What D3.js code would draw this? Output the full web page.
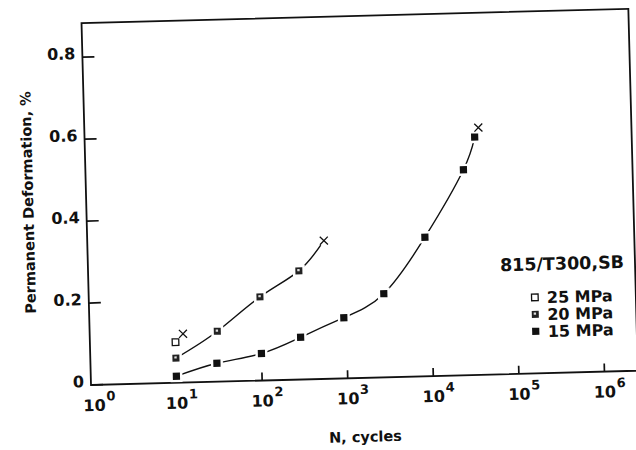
<!DOCTYPE html>
<html>
<head>
<meta charset="utf-8">
<script src="https://cdn.jsdelivr.net/npm/d3@7"></script>
<style>
  body { margin: 0; background: #fff; }
  text { font-family: "DejaVu Sans", "Liberation Sans", Arial, sans-serif; font-weight: bold; fill: #111; }
</style>
</head>
<body>
<svg width="636" height="450"></svg>
<script>
// cycles N and permanent deformation (%)
var n15 = [10, 30, 100, 290, 940, 2800, 8800, 26000, 36000];
var d15 = [0.016, 0.045, 0.066, 0.103, 0.148, 0.204, 0.339, 0.501, 0.580];
var n20 = [10, 31, 100, 290];
var d20 = [0.060, 0.123, 0.204, 0.265];
var n25 = [10];
var d25 = [0.099];
// failure ("x") points, order 25 / 20 / 15 MPa
var failN = [12.3, 580, 40000];
var failD = [0.119, 0.337, 0.603];

var seriesNames = ["25 MPa", "20 MPa", "15 MPa"];
var legendTitle = "815/T300,SB";
var yTicks = [0, 0.2, 0.4, 0.6, 0.8];
var yTickLabels = ["0", "0.2", "0.4", "0.6", "0.8"];
var xTickExp = [0, 1, 2, 3, 4, 5, 6];

var svg = d3.select("svg");

// the scanned figure sits a little crooked, so the whole drawing is turned a bit
var g = svg.append("g").attr("transform", "rotate(-1.5,91,385)");

var x = d3.scaleLog().domain([1, Math.pow(10, 6.39)]).range([91, 638]);
var y = d3.scaleLinear().domain([0, 0.883]).range([385, 23]);

// frame
g.append("rect")
  .attr("x", x.range()[0]).attr("y", y.range()[1])
  .attr("width", x.range()[1] - x.range()[0])
  .attr("height", y.range()[0] - y.range()[1])
  .attr("fill", "none").attr("stroke", "#111").attr("stroke-width", 1.8);

// y ticks (inside) + labels
g.selectAll(".ytick").data(yTicks).enter().append("line")
  .attr("x1", x(1)).attr("x2", x(1) + 12)
  .attr("y1", d => y(d)).attr("y2", d => y(d))
  .attr("stroke", "#111").attr("stroke-width", 1.7);
g.selectAll(".ylab").data(yTicks).enter().append("text")
  .attr("x", x(1) - 7).attr("y", d => y(d) + 2)
  .attr("text-anchor", "end")
  .style("font-size", "16px")
  .text((d, i) => yTickLabels[i]);

// x ticks (inside) + 10^n labels
g.selectAll(".xtick").data(xTickExp.slice(1)).enter().append("line")
  .attr("x1", d => x(Math.pow(10, d))).attr("x2", d => x(Math.pow(10, d)))
  .attr("y1", y(0)).attr("y2", y(0) - 8)
  .attr("stroke", "#111").attr("stroke-width", 1.7);
var xl = g.selectAll(".xlab").data(xTickExp).enter().append("g");
xl.append("text")
  .attr("x", d => x(Math.pow(10, d)) + (d === 0 ? 3 : 0)).attr("y", y(0) + 26)
  .attr("text-anchor", "middle")
  .style("font-size", "16px")
  .text("10");
xl.append("text")
  .attr("x", d => x(Math.pow(10, d)) + (d === 0 ? 3 : 0) + 12).attr("y", y(0) + 16)
  .style("font-size", "13px")
  .text(d => d);

// axis titles
g.append("text")
  .attr("transform", "translate(38,201) rotate(-90)")
  .attr("text-anchor", "middle")
  .style("font-size", "14.5px")
  .text("Permanent Deformation, %");
g.append("text")
  .attr("x", 364).attr("y", 449)
  .attr("text-anchor", "middle")
  .style("font-size", "14.5px")
  .text("N, cycles");

// series
var series = [
  { n: n25, d: d25, kind: "open" },
  { n: n20, d: d20, kind: "half" },
  { n: n15, d: d15, kind: "full" }
];

var line = d3.line()
  .x(p => x(p[0])).y(p => y(p[1]))
  .curve(d3.curveNatural);

function drawMarker(sel, kind, cx, cy) {
  if (kind === "open") {
    sel.append("rect").attr("x", cx - 3.3).attr("y", cy - 3.3).attr("width", 6.6).attr("height", 6.6)
      .attr("fill", "#fff").attr("stroke", "#111").attr("stroke-width", 1.3);
  } else if (kind === "half") {
    sel.append("rect").attr("x", cx - 3.5).attr("y", cy - 3.5).attr("width", 7).attr("height", 7)
      .attr("fill", "#222");
    sel.append("rect").attr("x", cx - 1.6).attr("y", cy - 1.8).attr("width", 2.4).attr("height", 2.2)
      .attr("fill", "#ddd");
  } else {
    sel.append("rect").attr("x", cx - 3.6).attr("y", cy - 3.6).attr("width", 7.2).attr("height", 7.2)
      .attr("fill", "#111");
  }
}

series.forEach(function(s, i) {
  var pts = s.n.map((v, j) => [v, s.d[j]]);
  pts.push([failN[i], failD[i]]);
  g.append("path").attr("d", line(pts))
    .attr("fill", "none").attr("stroke", "#111").attr("stroke-width", 1.4);

  // white halos make the little gaps around each symbol
  pts.forEach(function(p, j) {
    var px = x(p[0]), py = y(p[1]);
    if (j === pts.length - 1) {
      g.append("circle").attr("cx", px).attr("cy", py).attr("r", 5.5).attr("fill", "#fff");
      g.append("path")
        .attr("d", "M" + (px - 4) + "," + (py - 4) + "L" + (px + 4) + "," + (py + 4) +
                   "M" + (px - 4) + "," + (py + 4) + "L" + (px + 4) + "," + (py - 4))
        .attr("stroke", "#111").attr("stroke-width", 1.3);
    } else {
      g.append("rect").attr("x", px - 6).attr("y", py - 6).attr("width", 12).attr("height", 12).attr("fill", "#fff");
      drawMarker(g, s.kind, px, py);
    }
  });
});

// legend
g.append("text")
  .attr("x", 503).attr("y", 282)
  .style("font-size", "17.5px")
  .text(legendTitle);
seriesNames.forEach(function(name, i) {
  var ly = 309 + i * 17;
  drawMarker(g, series[i].kind, 537, ly);
  g.append("text")
    .attr("x", 549).attr("y", ly + 6)
    .style("font-size", "16px")
    .text(name);
});
</script>
</body>
</html>
